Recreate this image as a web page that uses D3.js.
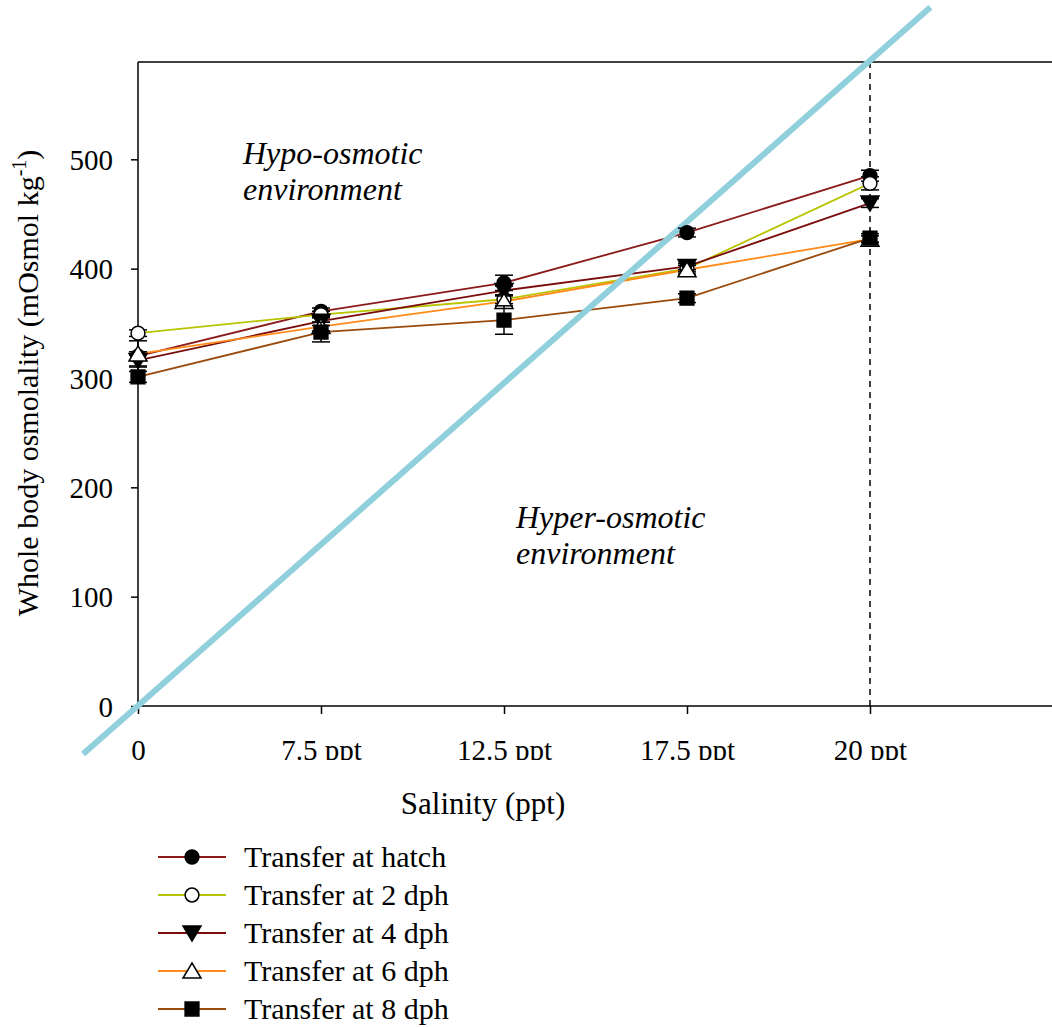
<!DOCTYPE html>
<html lang="en">
<head>
<meta charset="UTF-8">
<title>Whole body osmolality</title>
<script src="https://d3js.org/d3.v7.min.js"></script>
<style>
  body { margin: 0; background: #fff; }
  text { font-family: "Liberation Serif", "Times New Roman", serif; fill: #000; }
</style>
</head>
<body>
<script>
// salinity categories
const salinity = ["0", "7.5 ppt", "12.5 ppt", "17.5 ppt", "20 ppt"];
const yTicks = [0, 100, 200, 300, 400, 500];

// whole body osmolality (mOsmol/kg) per group, and SE
const hatch   = [320, 361, 387, 433, 485];
const dph2    = [341, 358, 372, 400, 478];
const dph4    = [316, 352, 380, 402, 460];
const dph6    = [322, 347, 370, 399, 427];
const dph8    = [301, 342, 353, 373, 428];
const seHatch = [4, 3, 7, 4, 5];
const se2     = [3, 3, 4, 3, 6];
const se4     = [5, 4, 4, 3, 4];
const se6     = [12, 4, 5, 4, 3];
const se8     = [5, 9, 13, 4, 4];

// isosmotic line (category position, osmolality)
const isoLine = [[-0.3, -44], [4.33, 639]];

const series = [
  {name: "Transfer at hatch", vals: hatch, se: seHatch, color: "#8b1a1a", sym: "circle", fill: "#000"},
  {name: "Transfer at 2 dph", vals: dph2, se: se2, color: "#b8c400", sym: "circle", fill: "#fff"},
  {name: "Transfer at 4 dph", vals: dph4, se: se4, color: "#7a0c0c", sym: "tridown", fill: "#000"},
  {name: "Transfer at 6 dph", vals: dph6, se: se6, color: "#ff8c1a", sym: "triup", fill: "#fff"},
  {name: "Transfer at 8 dph", vals: dph8, se: se8, color: "#9a4a0c", sym: "square", fill: "#000"}
];

const W = 1052, H = 1027;
const svg = d3.select("body").append("svg").attr("width", W).attr("height", H);

const pLeft = 138, pTop = 62, pBottom = 706, pRight = 1052;
const x = d3.scaleLinear().domain([0, 5]).range([pLeft, pLeft + 5 * 183]);
const y = d3.scaleLinear().domain([0, 589]).range([pBottom, pTop]);

function symbolPath(sym) {
  if (sym === "circle") return d3.symbol(d3.symbolCircle, 150)();
  if (sym === "square") return d3.symbol(d3.symbolSquare, 190)();
  if (sym === "triup") return "M0,-8 L9,7 L-9,7 Z";
  return "M0,8 L9,-7 L-9,-7 Z";
}

// frame
svg.append("line").attr("x1", pLeft).attr("x2", pRight).attr("y1", pTop).attr("y2", pTop)
  .attr("stroke", "#000").attr("stroke-width", 1.5);
svg.append("line").attr("x1", pLeft).attr("x2", pRight).attr("y1", pBottom).attr("y2", pBottom)
  .attr("stroke", "#000").attr("stroke-width", 1.5);
svg.append("line").attr("x1", pLeft).attr("x2", pLeft).attr("y1", pTop).attr("y2", pBottom)
  .attr("stroke", "#000").attr("stroke-width", 1.5);

// y axis
const yAxis = svg.append("g").attr("transform", `translate(${pLeft},0)`)
  .call(d3.axisLeft(y).tickValues(yTicks).tickSize(7).tickPadding(18));
yAxis.select(".domain").remove();
yAxis.selectAll("line").attr("stroke", "#000").attr("stroke-width", 1.5);
yAxis.selectAll("text").style("font-size", "29px").style("font-family", "Liberation Serif").attr("dy", "0.35em");

// x axis, labels clipped at bottom like the original
svg.append("clipPath").attr("id", "xclip").append("rect")
  .attr("x", 0).attr("y", 0).attr("width", W).attr("height", 54);
const xAxis = svg.append("g").attr("transform", `translate(0,${pBottom})`)
  .attr("clip-path", "url(#xclip)")
  .call(d3.axisBottom(x).tickValues(d3.range(salinity.length))
    .tickFormat(i => salinity[i]).tickSize(8).tickPadding(25));
xAxis.select(".domain").remove();
xAxis.selectAll("line").attr("stroke", "#000").attr("stroke-width", 1.5);
xAxis.selectAll("text").style("font-size", "29px").style("font-family", "Liberation Serif");

// axis titles
svg.append("text").attr("x", 483).attr("y", 814).attr("text-anchor", "middle")
  .style("font-size", "31px").text("Salinity (ppt)");
const yt = svg.append("text").attr("transform", "translate(38,383) rotate(-90)")
  .attr("text-anchor", "middle").style("font-size", "30px");
yt.append("tspan").text("Whole body osmolality (mOsmol kg");
yt.append("tspan").attr("dy", -12).style("font-size", "20px").text("-1");
yt.append("tspan").attr("dy", 12).text(")");

// dashed line at 20 ppt
svg.append("line").attr("x1", x(4)).attr("x2", x(4)).attr("y1", pTop).attr("y2", pBottom)
  .attr("stroke", "#000").attr("stroke-width", 1.5).attr("stroke-dasharray", "6,5");

// annotations
const ann = [
  {lines: ["Hypo-osmotic", "environment"], x: 243, y: 164},
  {lines: ["Hyper-osmotic", "environment"], x: 516, y: 528}
];
ann.forEach(a => {
  a.lines.forEach((t, i) => {
    svg.append("text").attr("x", a.x).attr("y", a.y + i * 36)
      .style("font-size", "32px").style("font-style", "italic").text(t);
  });
});

const line = d3.line().x((d, i) => x(i)).y(d => y(d));

// series lines
series.forEach(s => {
  svg.append("path").datum(s.vals).attr("d", line)
    .attr("fill", "none").attr("stroke", s.color).attr("stroke-width", 1.8);
});

// isosmotic line
svg.append("line")
  .attr("x1", x(isoLine[0][0])).attr("y1", y(isoLine[0][1]))
  .attr("x2", x(isoLine[1][0])).attr("y2", y(isoLine[1][1]))
  .attr("stroke", "#90cfdc").attr("stroke-width", 6);

// error bars and markers
series.forEach(s => {
  const g = svg.append("g");
  s.vals.forEach((v, i) => {
    const cx = x(i);
    g.append("line").attr("x1", cx).attr("x2", cx)
      .attr("y1", y(v - s.se[i])).attr("y2", y(v + s.se[i]))
      .attr("stroke", "#000").attr("stroke-width", 1.5);
    [v - s.se[i], v + s.se[i]].forEach(e => {
      g.append("line").attr("x1", cx - 9).attr("x2", cx + 9)
        .attr("y1", y(e)).attr("y2", y(e))
        .attr("stroke", "#000").attr("stroke-width", 1.5);
    });
    g.append("path").attr("d", symbolPath(s.sym))
      .attr("transform", `translate(${cx},${y(v)})`)
      .attr("fill", s.fill).attr("stroke", "#000").attr("stroke-width", 1.5);
  });
});

// legend
const leg = svg.append("g");
series.forEach((s, i) => {
  const ly = 857 + i * 38;
  leg.append("line").attr("x1", 158).attr("x2", 226).attr("y1", ly).attr("y2", ly)
    .attr("stroke", s.color).attr("stroke-width", 1.8);
  leg.append("path").attr("d", symbolPath(s.sym))
    .attr("transform", `translate(192,${ly})`)
    .attr("fill", s.fill).attr("stroke", "#000").attr("stroke-width", 1.5);
  leg.append("text").attr("x", 244).attr("y", ly + 10)
    .style("font-size", "30px").text(s.name);
});
</script>
</body>
</html>
